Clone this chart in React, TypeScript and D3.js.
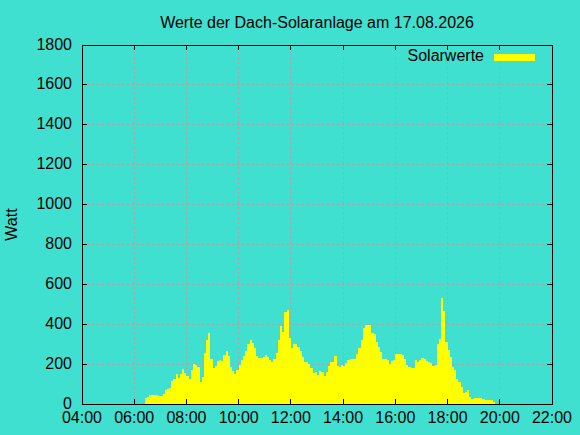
import React from 'react';
import * as d3 from 'd3';

// Chart texts
const chartTitle = 'Werte der Dach-Solaranlage am 17.08.2026';
const yAxisLabel = 'Watt';
const legendLabel = 'Solarwerte';

// Tick labels
const xTickLabels = ['04:00', '06:00', '08:00', '10:00', '12:00', '14:00', '16:00', '18:00', '20:00', '22:00'];
const yTickValues = [0, 200, 400, 600, 800, 1000, 1200, 1400, 1600, 1800];

// Measurements: one value every 5 minutes, starting at 06:25
const startTime = '06:25';
const stepMinutes = 5;
const solarValues = [
  29, 35, 43, 44, 44, 45, 40, 40, 48, 68, 75, 80, // 06:25 - 07:20
  115, 125, 152, 130, 150, 174, 157, 140, 125, 170, 200, 195, // 07:25 - 08:20
  184, 110, 137, 255, 320, 355, 225, 183, 193, 217, 223, 218, // 08:25 - 09:20
  245, 268, 240, 185, 165, 152, 168, 195, 220, 242, 265, 300, // 09:25 - 10:20
  320, 304, 280, 240, 232, 232, 235, 248, 237, 220, 212, 224, // 10:25 - 11:20
  255, 320, 391, 360, 461, 470, 330, 279, 300, 303, 284, 265, // 11:25 - 12:20
  237, 212, 212, 200, 180, 155, 160, 147, 165, 162, 142, 160, // 12:25 - 13:20
  190, 210, 210, 240, 190, 184, 198, 190, 207, 222, 224, 224, // 13:25 - 14:20
  224, 250, 279, 320, 380, 396, 398, 395, 355, 350, 310, 288, // 14:25 - 15:20
  262, 225, 227, 222, 200, 215, 221, 251, 251, 251, 245, 225, // 15:25 - 16:20
  195, 184, 178, 180, 221, 212, 221, 230, 224, 216, 210, 204, // 16:25 - 17:20
  190, 195, 300, 325, 529, 465, 310, 270, 237, 187, 170, 125, // 17:25 - 18:20
  112, 85, 55, 62, 68, 35, 25, 32, 32, 32, 32, 25, // 18:25 - 19:20
  20, 20, 22, 22, 10, // 19:25 - 19:45
];

const width = 580;
const height = 435;
const margin = { top: 45, right: 28, bottom: 31, left: 82 };
const font = '"Liberation Sans", Arial, sans-serif';

const toMinutes = (s: string) => {
  const [h, m] = s.split(':').map(Number);
  return h * 60 + m;
};

const App: React.FC = () => {
  const x = d3
    .scaleLinear()
    .domain([toMinutes('04:00'), toMinutes('22:00')])
    .range([margin.left, width - margin.right]);
  const y = d3.scaleLinear().domain([0, 1800]).range([height - margin.bottom, margin.top]);

  const t0 = toMinutes(startTime);
  const points: [number, number][] = solarValues.map((v, i) => [t0 + i * stepMinutes, v]);
  // close the last step
  points.push([t0 + solarValues.length * stepMinutes, solarValues[solarValues.length - 1]]);

  const area = d3
    .area<[number, number]>()
    .x(d => x(d[0]))
    .y0(y(0))
    .y1(d => y(d[1]))
    .curve(d3.curveStepAfter);

  const [x0, x1] = x.range();
  const [yb, yt] = y.range();
  const tick = 5;
  const gridColor = '#c09aa4';

  return (
    <svg
      width={width}
      height={height}
      style={{ position: 'absolute', left: 0, top: 0, fontFamily: font }}
    >
      <rect width={width} height={height} fill="#40e0d0" />

      {/* grid */}
      <g stroke={gridColor} strokeWidth={1} strokeDasharray="2,3" shapeRendering="crispEdges">
        {xTickLabels.slice(1, -1).map(l => (
          <line key={l} x1={x(toMinutes(l))} x2={x(toMinutes(l))} y1={yb} y2={yt} />
        ))}
        {yTickValues.slice(1, -1).map(v => (
          <line key={v} x1={x0} x2={x1} y1={y(v)} y2={y(v)} />
        ))}
      </g>

      {/* data */}
      <path d={area(points) ?? ''} fill="#ffff00" shapeRendering="crispEdges" />

      {/* ticks */}
      <g stroke="#000" strokeWidth={1} shapeRendering="crispEdges">
        {xTickLabels.map(l => {
          const px = x(toMinutes(l));
          return (
            <g key={l}>
              <line x1={px} x2={px} y1={yb} y2={yb - tick} />
              <line x1={px} x2={px} y1={yt} y2={yt + tick} />
            </g>
          );
        })}
        {yTickValues.map(v => (
          <g key={v}>
            <line x1={x0} x2={x0 + tick} y1={y(v)} y2={y(v)} />
            <line x1={x1} x2={x1 - tick} y1={y(v)} y2={y(v)} />
          </g>
        ))}
      </g>

      {/* border */}
      <rect
        x={x0}
        y={yt}
        width={x1 - x0}
        height={yb - yt}
        fill="none"
        stroke="#000"
        strokeWidth={1}
        shapeRendering="crispEdges"
      />

      {/* tick labels */}
      <g fontSize={16} fill="#000">
        {xTickLabels.map(l => (
          <text key={l} x={x(toMinutes(l))} y={423} textAnchor="middle">
            {l}
          </text>
        ))}
        {yTickValues.map(v => (
          <text key={v} x={72} y={y(v) + 4.5} textAnchor="end">
            {v}
          </text>
        ))}
      </g>

      {/* y label */}
      <text
        transform={`translate(17,${(yb + yt) / 2}) rotate(-90)`}
        textAnchor="middle"
        fontSize={16}
      >
        {yAxisLabel}
      </text>

      {/* title */}
      <text x={(x0 + x1) / 2} y={28} textAnchor="middle" fontSize={16}>
        {chartTitle}
      </text>

      {/* legend */}
      <text x={484} y={61} textAnchor="end" fontSize={16}>
        {legendLabel}
      </text>
      <rect x={494} y={54} width={41} height={7} fill="#ffff00" />
    </svg>
  );
};

export default App;
